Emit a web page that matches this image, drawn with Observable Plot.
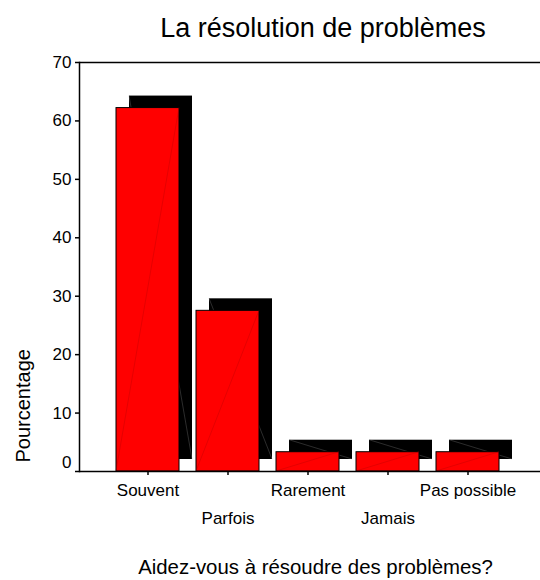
<!DOCTYPE html>
<html>
<head>
<meta charset="utf-8">
<script src="https://cdn.jsdelivr.net/npm/d3@7"></script>
<script src="https://cdn.jsdelivr.net/npm/@observablehq/plot@0.6"></script>
<style>
  html, body { margin: 0; padding: 0; background: #fff; }
  #chart svg { display: block; }
</style>
</head>
<body>
<div id="chart"></div>
<script>
const title = "La résolution de problèmes";
const xLabel = "Aidez-vous à résoudre des problèmes?";
const yLabel = "Pourcentage";
const categories = ["Souvent", "Parfois", "Rarement", "Jamais", "Pas possible"];
const percentages = [62.2, 27.5, 3.3, 3.3, 3.3];
const yTicks = [10, 20, 30, 40, 50, 60, 70];
const yZeroTick = [0];

const data = categories.map((c, i) => ({category: c, value: percentages[i]}));
const upperLabels = categories.filter((_, i) => i % 2 === 0);
const lowerLabels = categories.filter((_, i) => i % 2 === 1);

const font = "'Liberation Sans', Arial, Helvetica, sans-serif";

function seam(direction, color) {
  return (index, scales, values, dims, context, next) => {
    const g = next(index, scales, values, dims, context);
    const ns = "http://www.w3.org/2000/svg";
    const rects = Array.from(g.querySelectorAll("rect"));
    for (const r of rects) {
      const x = +r.getAttribute("x"), y = +r.getAttribute("y");
      const w = +r.getAttribute("width"), h = +r.getAttribute("height");
      const line = document.createElementNS(ns, "line");
      if (direction === "up") {
        line.setAttribute("x1", x); line.setAttribute("y1", y + h);
        line.setAttribute("x2", x + w); line.setAttribute("y2", y);
      } else {
        line.setAttribute("x1", x); line.setAttribute("y1", y);
        line.setAttribute("x2", x + w); line.setAttribute("y2", y + h);
      }
      line.setAttribute("stroke", color);
      line.setAttribute("stroke-width", 0.6);
      line.setAttribute("stroke-opacity", 0.55);
      const t = r.getAttribute("transform");
      if (t) line.setAttribute("transform", t);
      r.parentNode.insertBefore(line, r.nextSibling);
    }
    return g;
  };
}

const chart = Plot.plot({
  width: 540,
  height: 580,
  marginLeft: 79,
  marginRight: 0,
  marginTop: 62,
  marginBottom: 109,
  style: {fontFamily: font, fontSize: "17px", background: "#fff", color: "#000"},
  x: {type: "band", domain: categories, paddingInner: 0.209, paddingOuter: 0.475, align: 0.472, axis: null},
  y: {domain: [0, 70], axis: null},
  marks: [
    // shadow bars
    Plot.barY(data, {x: "category", y: "value", fill: "#000", dx: 13, dy: -12, inset: 0,
      render: seam("down", "#888")}),
    // red bars
    Plot.barY(data, {x: "category", y: "value", fill: "#ff0000", stroke: "#000", strokeWidth: 1, inset: 0,
      render: seam("up", "#b00000")}),
    // frame lines
    Plot.ruleY([0, 70], {stroke: "#000", strokeWidth: 1.5}),
    Plot.frame({anchor: "left", stroke: "#000", strokeWidth: 1.5}),
    // y axis
    Plot.axisY(yTicks, {tickSize: 4, tickPadding: 4, fontSize: 17, strokeWidth: 1.5, label: null}),
    Plot.axisY(yZeroTick, {tickSize: 4, tickPadding: 4, fontSize: 17, strokeWidth: 1.5, label: null, text: null}),
    Plot.axisY(yZeroTick, {tickSize: 0, tickPadding: 8, fontSize: 17, label: null, dy: -9}),
    // x axis (staggered)
    Plot.axisX(upperLabels, {tickSize: 4, tickPadding: 8, fontSize: 17, strokeWidth: 1.5, label: null}),
    Plot.axisX(lowerLabels, {tickSize: 4, tickPadding: 36, fontSize: 17, strokeWidth: 1.5, label: null}),
    // title
    Plot.text([title], {frameAnchor: "top", dx: 13, dy: -26, lineAnchor: "bottom", fontSize: 27, fill: "#000"}),
    // x label
    Plot.text([xLabel], {frameAnchor: "bottom", dx: 5.5, dy: 102, lineAnchor: "bottom", fontSize: 20.4, fill: "#000"}),
    // y label
    Plot.text([yLabel], {frameAnchor: "bottom-left", dx: -56, dy: -9, rotate: -90, textAnchor: "start", lineAnchor: "middle", fontSize: 20, fill: "#000"})
  ]
});
document.getElementById("chart").appendChild(chart);
</script>
</body>
</html>
